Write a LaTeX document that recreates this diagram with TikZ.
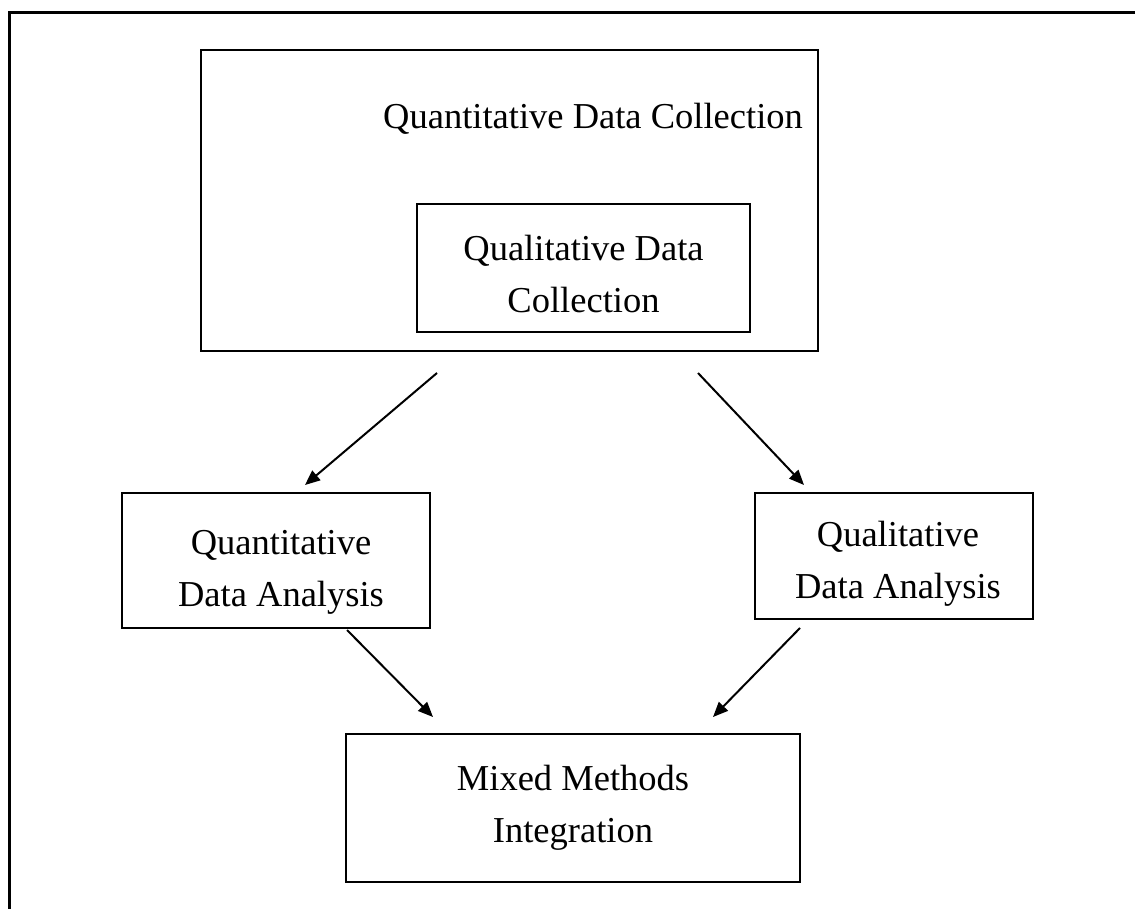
\documentclass[tikz,border=0pt]{standalone}
\usepackage{fontspec}
\setmainfont{Liberation Serif}
\usetikzlibrary{arrows.meta}

\begin{document}
\begin{tikzpicture}[
              x=1pt,y=-1pt,
              every node/.style={
                  font=\fontsize{36.5}{52}\selectfont,
                  align=center,
                },
              box/.style={
                  draw,
                  line width=2.4pt,
                  inner sep=0pt,
                },
              flow/.style={line width=2pt,-{Triangle[length=15pt,width=12.5pt]}}
            ]
            \useasboundingbox (0,0) rectangle (1135,909);
            % page frame, cut at right and bottom
            \draw[line width=3.4pt] (9.5,909) -- (9.5,12.5) -- (1135,12.5);
            \node[box,minimum width=617pt,minimum height=301pt] (qncoll) at (509.5,200.5) {};
            \node (qntitle) at (593,119) {Quantitative Data Collection};
            \node[box,minimum width=333pt,minimum height=128pt,
              label={[yshift=-6pt]center:{Qualitative Data\\Collection}}] (qlcoll) at (583.5,268) {};
            \node[box,minimum width=308pt,minimum height=135pt,
              label={[xshift=5pt,yshift=-12pt]center:{Quantitative\\Data Analysis}}] (qnana) at (276,560.5) {};
            \node[box,minimum width=278pt,minimum height=126pt,
              label={[xshift=4pt,yshift=-8pt]center:{Qualitative\\Data Analysis}}] (qlana) at (894,556) {};
            \node[box,minimum width=454pt,minimum height=148pt] (mixed) at (573,808) {Mixed Methods\\Integration};
            \coordinate (qnout) at (437,373);
            \coordinate (qnin) at (305,485);
            \coordinate (qlout) at (698,373);
            \coordinate (qlin) at (804,485);
            \coordinate (qnaout) at (347,630);
            \coordinate (qlaout) at (800,628);
            \coordinate (mixl) at (433,717);
            \coordinate (mixr) at (713,717);
            \path[flow]
            (qnout) edge (qnin)
            (qlout) edge (qlin)
            (qnaout) edge (mixl)
            (qlaout) edge (mixr)
            ;
          \end{tikzpicture}
\end{document}
